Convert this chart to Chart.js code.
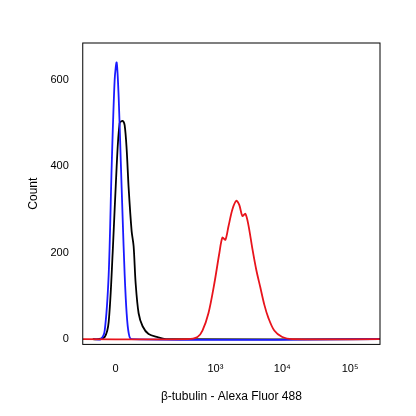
<!DOCTYPE html><html><head><script src="https://cdn.jsdelivr.net/npm/chart.js@4"></script>
<style>body{margin:0;background:#fff}#w{width:416px;height:416px}</style></head><body><div id="w"><canvas id="c"></canvas></div>
<script>
const xTicks=[33,133,200,268];
const xTickLabels=["0","10³","10⁴","10⁵"];
const yTicks=[0,200,400,600];
const blueX=[12,18,22,26,29,32,34,36,38,40,42,44,46,49,298];
const blueY=[0,0,20,150,400,600,640,560,420,280,150,60,15,0,0];
const blackX=[10,15,22,26,30,34,37,40,42,44,46,49,51,53,56,60,66,75,85,298];
const blackY=[0,0,5,40,200,400,500,505,495,440,350,250,215,130,60,30,12,5,0,0];
const redX=[0,105,115,120,126,132,137,140,143,146,150,154,157,160,163,166,170,174,178,182,186,192,200,210,298];
const redY=[0,0,5,20,60,130,200,235,230,260,300,320,310,285,290,265,210,160,120,80,50,20,5,0,0];
const mk=(xs,ys)=>xs.map((x,i)=>({x,y:ys[i]}));
const frame={id:'f',afterDraw(c){const a=c.chartArea,g=c.ctx;g.save();g.strokeStyle='#000';g.lineWidth=1;g.strokeRect(a.left,a.top,a.right-a.left,a.bottom-a.top);g.restore();}};
new Chart(document.getElementById('c'),{type:'line',data:{datasets:[
{data:mk(redX,redY),borderColor:'#e8141c',borderWidth:1.8,pointRadius:0,tension:0.3},
{data:mk(blueX,blueY),borderColor:'#1a1aff',borderWidth:1.8,pointRadius:0,tension:0.3},
{data:mk(blackX,blackY),borderColor:'#000',borderWidth:1.8,pointRadius:0,tension:0.3}]},
options:{responsive:true,maintainAspectRatio:false,animation:false,layout:{padding:{left:22,right:36,top:43,bottom:8}},
plugins:{legend:{display:false},tooltip:{enabled:false}},
scales:{x:{type:'linear',min:0,max:298,grid:{display:false},border:{display:false},
afterBuildTicks:s=>{s.ticks=xTicks.map(v=>({value:v}))},
ticks:{autoSkip:false,maxRotation:0,color:'#000',font:{family:'Liberation Sans',size:11},callback:v=>xTickLabels[xTicks.indexOf(v)],padding:10},
title:{display:true,text:'β-tubulin - Alexa Fluor 488',color:'#000',font:{family:'Liberation Sans',size:12}}},
y:{min:-12,max:685,grid:{display:false,drawTicks:true},border:{display:false},
afterBuildTicks:s=>{s.ticks=yTicks.map(v=>({value:v}))},
ticks:{color:'#000',font:{family:'Liberation Sans',size:11},padding:6},
title:{display:true,text:'Count',color:'#000',font:{family:'Liberation Sans',size:12}}}}},
plugins:[frame]});
</script></body></html>
